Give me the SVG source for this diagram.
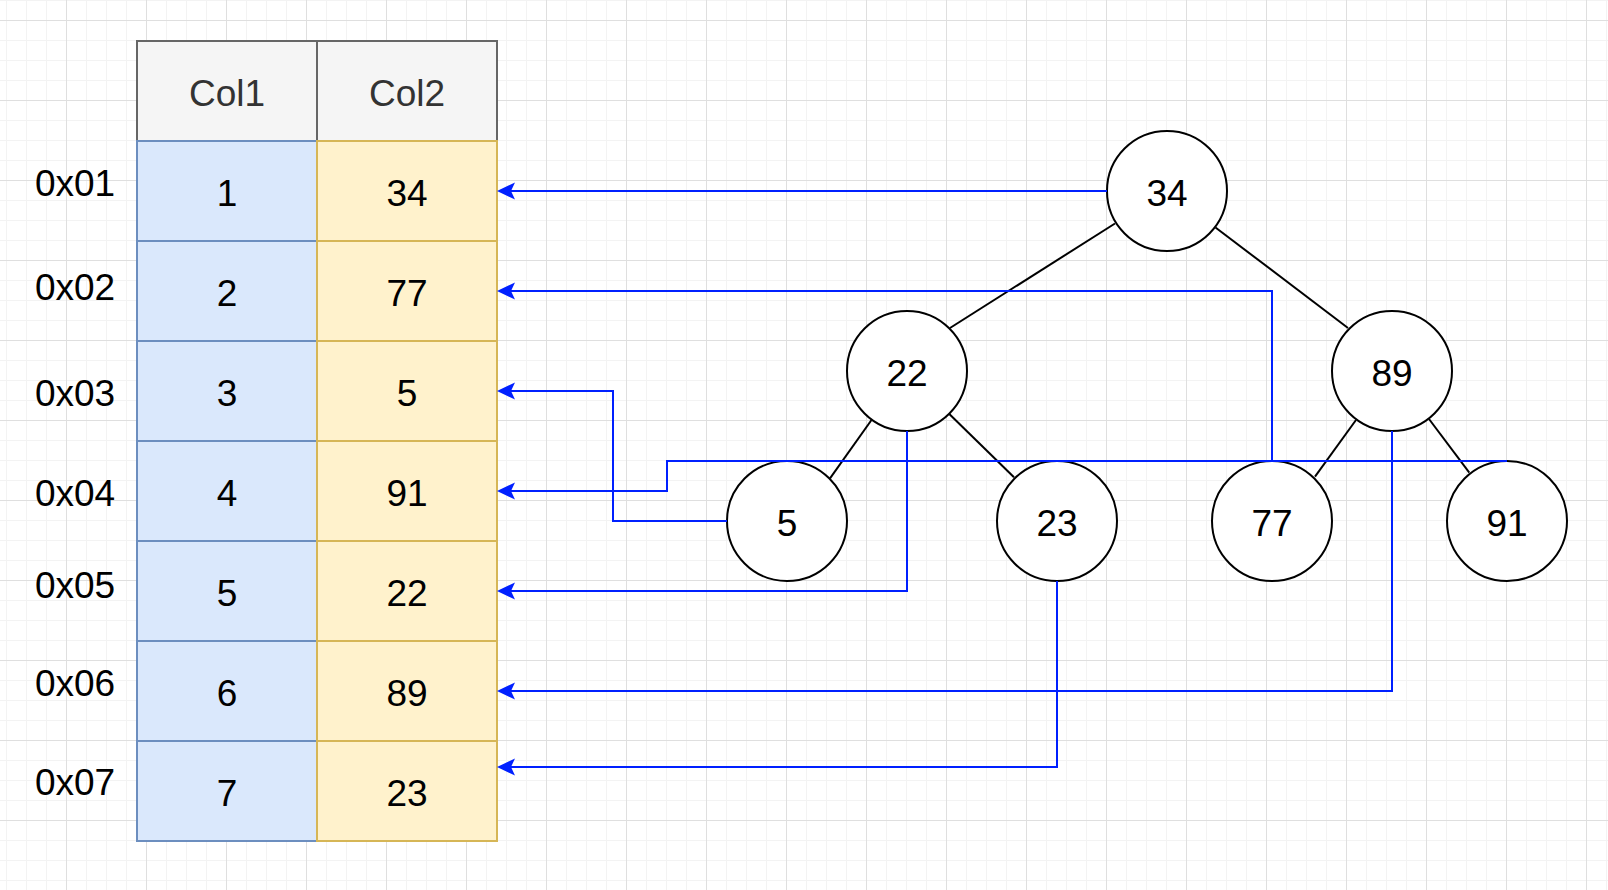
<svg xmlns="http://www.w3.org/2000/svg" width="1608" height="890" viewBox="0 0 1608 890">
<style>
text{font-family:"Liberation Sans",Arial,Helvetica,sans-serif;font-size:37px;text-anchor:middle;fill:#000}
.hd rect{fill:#f5f5f5;stroke:#666;stroke-width:2}
.hd text{fill:#333}
.c1 rect{fill:#dae8fc;stroke:#6c8ebf;stroke-width:2}
.c2 rect{fill:#fff2cc;stroke:#d6b656;stroke-width:2}
.node circle{fill:#fff;stroke:#000;stroke-width:2}
.tree line{stroke:#000;stroke-width:2}
.ptr path{fill:none;stroke:#0020ff;stroke-width:2;marker-end:url(#arr)}
</style>
<defs>
<pattern id="grid" patternUnits="userSpaceOnUse" x="-14" y="-60" width="80" height="80">
<rect width="80" height="80" fill="#fff"/>
<g fill="#f3f3f3">
<rect x="20" y="0" width="1" height="80"/><rect x="40" y="0" width="1" height="80"/><rect x="60" y="0" width="1" height="80"/>
<rect x="0" y="20" width="80" height="1"/><rect x="0" y="40" width="80" height="1"/><rect x="0" y="60" width="80" height="1"/>
</g>
<g fill="#dfdfdf">
<rect x="0" y="0" width="1" height="80"/><rect x="0" y="0" width="80" height="1"/>
</g>
</pattern>
<marker id="arr" markerUnits="userSpaceOnUse" markerWidth="40" markerHeight="40" refX="0" refY="0" orient="auto" overflow="visible">
<path d="M14,0 L-4,-8.5 L0,0 L-4,8.5 Z" fill="#0020ff"/>
</marker>
</defs>
<rect width="1608" height="890" fill="url(#grid)"/>

<g id="addresses">
<text x="75" y="196">0x01</text>
<text x="75" y="300">0x02</text>
<text x="75" y="406">0x03</text>
<text x="75" y="506">0x04</text>
<text x="75" y="598">0x05</text>
<text x="75" y="696">0x06</text>
<text x="75" y="795">0x07</text>
</g>

<g id="table">
<g class="hd">
<rect x="137" y="41" width="180" height="100"/><text x="227" y="106">Col1</text>
<rect x="317" y="41" width="180" height="100"/><text x="407" y="106">Col2</text>
</g>
<g class="c1">
<rect x="137" y="141" width="180" height="100"/><text x="227" y="206">1</text>
<rect x="137" y="241" width="180" height="100"/><text x="227" y="306">2</text>
<rect x="137" y="341" width="180" height="100"/><text x="227" y="406">3</text>
<rect x="137" y="441" width="180" height="100"/><text x="227" y="506">4</text>
<rect x="137" y="541" width="180" height="100"/><text x="227" y="606">5</text>
<rect x="137" y="641" width="180" height="100"/><text x="227" y="706">6</text>
<rect x="137" y="741" width="180" height="100"/><text x="227" y="806">7</text>
</g>
<g class="c2">
<rect x="317" y="141" width="180" height="100"/><text x="407" y="206">34</text>
<rect x="317" y="241" width="180" height="100"/><text x="407" y="306">77</text>
<rect x="317" y="341" width="180" height="100"/><text x="407" y="406">5</text>
<rect x="317" y="441" width="180" height="100"/><text x="407" y="506">91</text>
<rect x="317" y="541" width="180" height="100"/><text x="407" y="606">22</text>
<rect x="317" y="641" width="180" height="100"/><text x="407" y="706">89</text>
<rect x="317" y="741" width="180" height="100"/><text x="407" y="806">23</text>
</g>
</g>

<g id="n34" class="node"><circle cx="1167" cy="191" r="60"/><text x="1167" y="206">34</text></g>
<g id="n22" class="node"><circle cx="907" cy="371" r="60"/><text x="907" y="386">22</text></g>
<g id="n89" class="node"><circle cx="1392" cy="371" r="60"/><text x="1392" y="386">89</text></g>
<g id="n5" class="node"><circle cx="787" cy="521" r="60"/><text x="787" y="536">5</text></g>
<g id="n23" class="node"><circle cx="1057" cy="521" r="60"/><text x="1057" y="536">23</text></g>
<g id="n77" class="node"><circle cx="1272" cy="521" r="60"/><text x="1272" y="536">77</text></g>
<g id="n91" class="node"><circle cx="1507" cy="521" r="60"/><text x="1507" y="536">91</text></g>

<g id="connectors">
<g class="tree">
<line x1="1115" y1="223.5" x2="950" y2="328"/>
<line x1="1215.5" y1="227.5" x2="1348" y2="328"/>
<line x1="871.5" y1="420" x2="830" y2="478.3"/>
<line x1="949.3" y1="414" x2="1014" y2="477.3"/>
<line x1="1356" y1="420" x2="1315" y2="476.7"/>
<line x1="1429" y1="419" x2="1469.3" y2="472.7"/>
</g>
<g class="ptr">
<path d="M1107,191 H511"/>
<path d="M1272,461 V291 H511"/>
<path d="M727,521 H613 V391 H511"/>
<path d="M1507,461 H667 V491 H511"/>
<path d="M907,431 V591 H511"/>
<path d="M1392,431 V691 H511"/>
<path d="M1057,581 V767 H511"/>
</g>
</g>
</svg>
